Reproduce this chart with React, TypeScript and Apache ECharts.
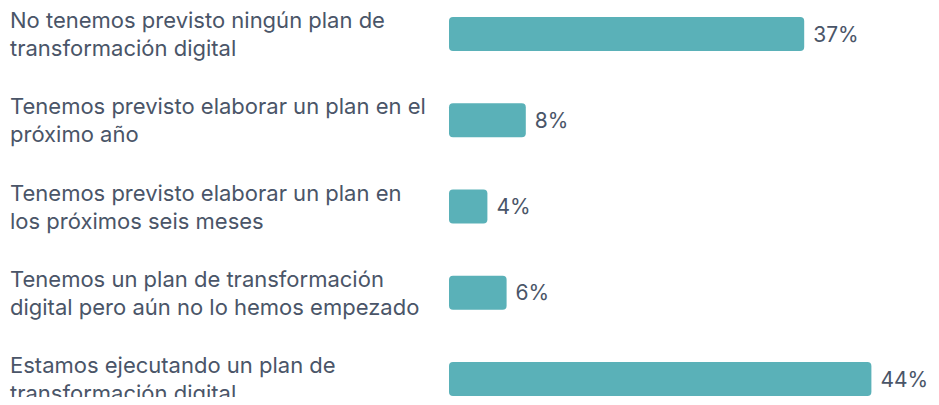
import React, { useEffect, useRef } from "react";
import * as echarts from "echarts";

const categories: string[] = [
  "No tenemos previsto ningún plan de\ntransformación digital",
  "Tenemos previsto elaborar un plan en el\npróximo año",
  "Tenemos previsto elaborar un plan en\nlos próximos seis meses",
  "Tenemos un plan de transformación\ndigital pero aún no lo hemos empezado",
  "Estamos ejecutando un plan de\ntransformación digital",
];
const values: number[] = [37, 8, 4, 6, 44];

const TEXT = "#4a5568";
const BAR = "#5ab1b8";
const FONT = "Inter, 'Noto Sans', sans-serif";

export default function App() {
  const ref = useRef<HTMLDivElement>(null);
  useEffect(() => {
    if (!ref.current) return;
    const chart = echarts.init(ref.current, undefined, { renderer: "svg" });
    chart.setOption({
      animation: false,
      grid: {
        left: 449,
        right: 10,
        top: 34,
        bottom: 26,
        containLabel: false,
        outerBoundsMode: "none",
      },
      xAxis: {
        type: "value",
        min: 0,
        max: 50,
        show: false,
      },
      yAxis: {
        type: "category",
        data: categories,
        inverse: true,
        boundaryGap: false,
        axisLine: { show: false },
        axisTick: { show: false },
        splitLine: { show: false },
        axisLabel: {
          align: "left",
          margin: 439,
          color: TEXT,
          fontFamily: FONT,
          fontSize: 22,
          lineHeight: 28,
          padding: [2, 0, 0, 0],
        },
      },
      series: [
        {
          type: "bar",
          data: values,
          barWidth: 34,
          itemStyle: { color: BAR, borderRadius: 4 },
          label: {
            show: true,
            position: "right",
            distance: 9,
            formatter: "{c}%",
            color: TEXT,
            fontFamily: FONT,
            fontSize: 21,
          },
        },
      ],
    });
    return () => chart.dispose();
  }, []);
  return <div ref={ref} style={{ width: 939, height: 405, margin: -8 }} />;
}
